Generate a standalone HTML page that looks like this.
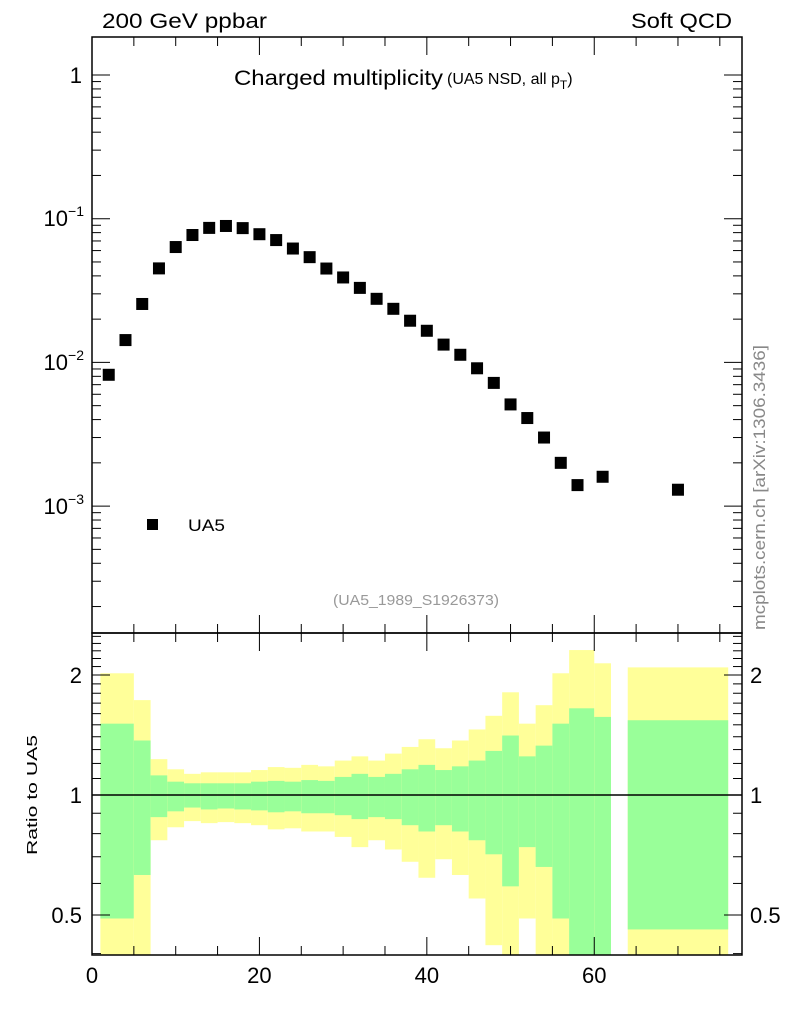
<!DOCTYPE html>
<html><head><meta charset="utf-8"><style>
body{margin:0;background:#fff;}
svg text{font-family:"Liberation Sans",sans-serif;}
</style></head><body>
<svg id="chart" width="786" height="1024" xmlns="http://www.w3.org/2000/svg">
<g id="bands"></g>
<g id="marks"></g>
<g id="axes"></g>
<text x="102" y="28" font-size="21" textLength="165" lengthAdjust="spacingAndGlyphs">200 GeV ppbar</text>
<text x="631" y="28" font-size="21" textLength="101" lengthAdjust="spacingAndGlyphs">Soft QCD</text>
<text x="234" y="85" font-size="21" textLength="209" lengthAdjust="spacingAndGlyphs">Charged multiplicity</text>
<text x="447" y="84" font-size="16">(UA5 NSD, all p<tspan font-size="12" dy="5">T</tspan><tspan dy="-5">)</tspan></text>
<text x="333" y="605" font-size="15" fill="#999" textLength="166" lengthAdjust="spacingAndGlyphs">(UA5_1989_S1926373)</text>
<rect x="147" y="519" width="11" height="11" fill="#000"/>
<text x="188" y="531" font-size="17" textLength="37" lengthAdjust="spacingAndGlyphs">UA5</text>
<text transform="translate(765,630) rotate(-90)" font-size="17" fill="#888" textLength="285" lengthAdjust="spacingAndGlyphs">mcplots.cern.ch [arXiv:1306.3436]</text>
<text transform="translate(37,855) rotate(-90)" font-size="15" textLength="120" lengthAdjust="spacingAndGlyphs">Ratio to UA5</text>
</svg>
<script>
const xs=[2,4,6,8,10,12,14,16,18,20,22,24,26,28,30,32,34,36,38,40,42,44,46,48,50,52,54,56,58,61,70];
const ys=[0.0082,0.0143,0.0255,0.0451,0.0635,0.077,0.0863,0.089,0.086,0.078,0.071,0.062,0.054,0.045,0.039,0.033,0.0277,0.0236,0.0195,0.0166,0.0133,0.0113,0.0091,0.0072,0.0051,0.0041,0.0030,0.0020,0.0014,0.0016,0.0013];
const binLo=[1,5,7,9,11,13,15,17,19,21,23,25,27,29,31,33,35,37,39,41,43,45,47,49,51,53,55,57,60,64];
const binHi=[5,7,9,11,13,15,17,19,21,23,25,27,29,31,33,35,37,39,41,43,45,47,49,51,53,55,57,60,62,76];
const yelTop=[2.02,1.73,1.23,1.16,1.13,1.14,1.14,1.14,1.155,1.175,1.17,1.19,1.18,1.22,1.25,1.22,1.27,1.32,1.38,1.31,1.37,1.46,1.58,1.81,1.51,1.68,2.02,2.31,2.14,2.09];
const grnTop=[1.51,1.37,1.12,1.08,1.07,1.07,1.07,1.07,1.08,1.085,1.08,1.09,1.085,1.11,1.13,1.11,1.13,1.16,1.19,1.155,1.18,1.22,1.29,1.41,1.25,1.33,1.51,1.65,1.57,1.54];
const grnBot=[0.49,0.63,0.88,0.91,0.93,0.92,0.925,0.92,0.915,0.905,0.91,0.90,0.90,0.89,0.87,0.88,0.87,0.84,0.81,0.84,0.81,0.77,0.71,0.59,0.74,0.66,0.49,0.3,0.3,0.46];
const yelBot=[0.3,0.3,0.77,0.83,0.86,0.85,0.855,0.85,0.84,0.82,0.825,0.81,0.81,0.785,0.74,0.77,0.73,0.68,0.62,0.69,0.63,0.55,0.42,0.3,0.49,0.3,0.3,0.3,0.43,0.3];
const NS='http://www.w3.org/2000/svg';
const L=92,R=742,T=37,M=633,B=955;
const X=v=>L+v*(650/77.65);
const Y=v=>75-Math.log10(v)*143.7;
const RY=v=>Math.max(T,Math.min(B,795-Math.log2(v)*120));
function el(tag,attrs,parent){const e=document.createElementNS(NS,tag);for(const k in attrs)e.setAttribute(k,attrs[k]);document.getElementById(parent).appendChild(e);return e;}
for(let i=0;i<binLo.length;i++){
 const x0=X(binLo[i]),w=X(binHi[i])-x0;
 const y1=RY(yelTop[i]),y2=Math.min(B,RY(yelBot[i]));
 const a=el('rect',{x:x0,y:y1,width:w,height:y2-y1,fill:'#ffff99'},'bands');
 
 
 const g1=RY(grnTop[i]),g2=Math.min(B,RY(grnBot[i]));
 const b=el('rect',{x:x0,y:g1,width:w,height:g2-g1,fill:'#99ff99'},'bands');
 
 
}
for(let i=0;i<xs.length;i++){
 const r=el('rect',{x:X(xs[i])-6,y:Y(ys[i])-6,width:12,height:12,fill:'#000'},'marks');
 
 
}
el('rect',{x:L,y:T,width:R-L,height:M-T,fill:'none',stroke:'#000','stroke-width':1.5},'axes');
el('rect',{x:L,y:M,width:R-L,height:B-M,fill:'none',stroke:'#000','stroke-width':1.5},'axes');
el('line',{x1:L,x2:R,y1:795,y2:795,stroke:'#000','stroke-width':1.5},'axes');
function line(x1,y1,x2,y2){el('line',{x1,y1,x2,y2,stroke:'#000','stroke-width':1},'axes');}
function txt(x,y,s,anchor,size){const t=el('text',{x,y,'font-size':size||22,'text-anchor':anchor||'end'},'axes');t.textContent=s;return t;}
for(let d=-4;d<=0;d++){for(let m=1;m<=9;m++){const v=m*Math.pow(10,d);const y=Y(v);if(y<T||y>M)continue;const len=m==1?18:9;line(L,y,L+len,y);line(R,y,R-len,y);}}
txt(82,83,'1');
[['-1',218],['-2',362],['-3',506]].forEach(([e,y])=>{const t=txt(84,y+8,'10');const s=document.createElementNS(NS,'tspan');s.setAttribute('font-size','14');s.setAttribute('dy','-10');s.textContent='−'+e.slice(1);t.appendChild(s);});
const rt=[0.4,0.5,0.6,0.7,0.8,0.9,1,1.1,1.2,1.3,1.4,1.5,1.6,1.7,1.8,1.9,2,2.1,2.2,2.3,2.4,2.5];
rt.forEach(v=>{const y=795-Math.log2(v)*120;if(y<M||y>B)return;const len=(v==0.5||v==1||v==2)?18:9;line(L,y,L+len,y);line(R,y,R-len,y);});
[[2,'2'],[1,'1'],[0.5,'0.5']].forEach(([v,s])=>{const y=795-Math.log2(v)*120+8;txt(82,y,s);txt(750,y,s,'start');});
for(let v=0;v<=75;v+=5){const x=X(v);const len=v%20==0?18:9;line(x,B,x,B-len);line(x,M,x,M+len);line(x,M,x,M-len);line(x,T,x,T+len);}
[0,20,40,60].forEach(v=>txt(X(v),983,String(v),'middle'));
</script>
</body></html>
